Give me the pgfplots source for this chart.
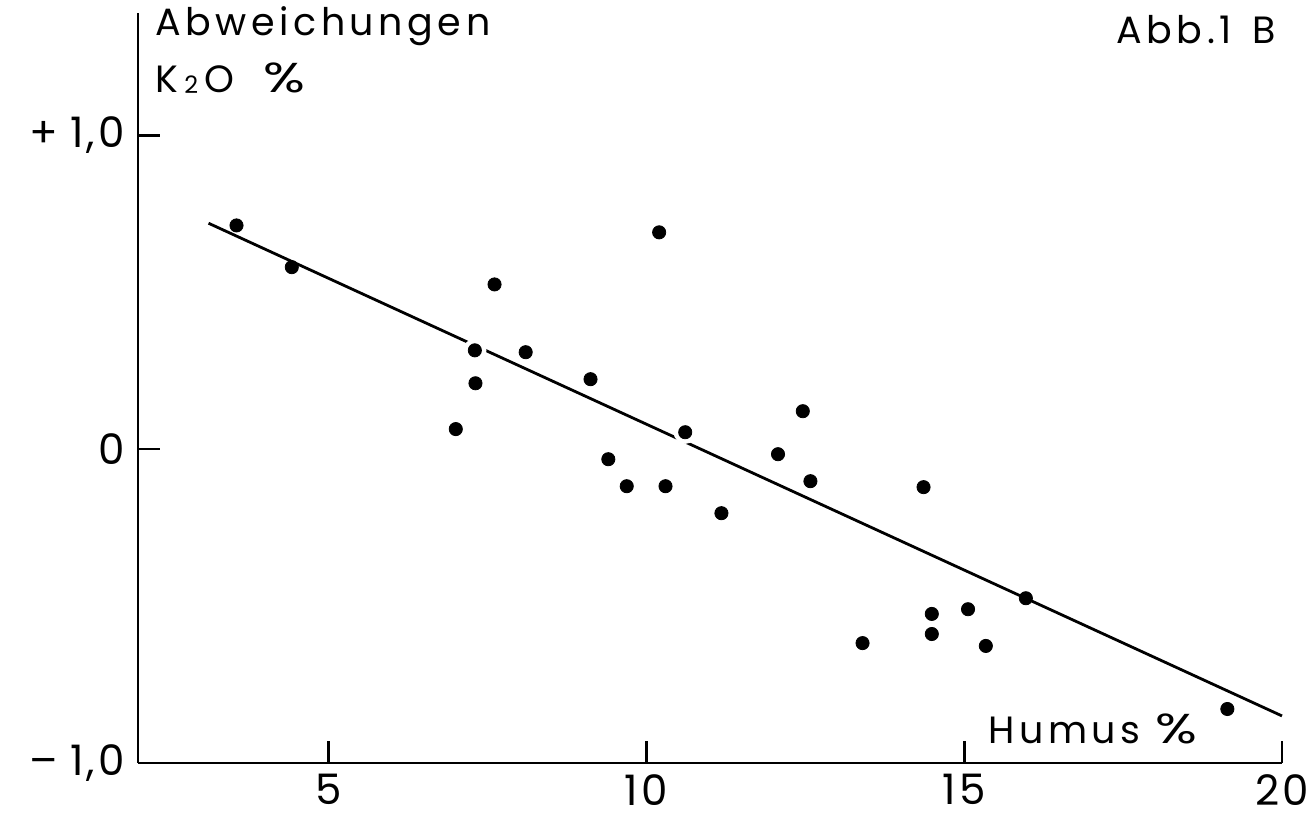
\documentclass[border=0pt]{standalone}
\usepackage{fontspec}
\usepackage{graphicx}
\setmainfont{Poppins}
\newfontfamily\lettering[LetterSpace=12]{Poppins}
\newfontfamily\numbers[LetterSpace=8]{Poppins}
\usepackage{pgfplots}
\pgfplotsset{compat=1.18}
% wide percent sign as used in the lettering
\newcommand{\pct}{\scalebox{1.45}[1.1]{\%}}

\begin{document}
\begin{tikzpicture}
\begin{axis}[
  name=ax,
  scale only axis,
  width=572pt, height=375pt,
  xmin=2, xmax=20, ymin=-1, ymax=1.39,
  axis lines=left,
  axis line style={-, line width=1.3pt},
  major tick style={black, line width=1.3pt},
  xtick align=inside,
  ytick align=inside,
  major tick length=11pt,
  xtick={5,10,15,20},
  xticklabels={5,10,15,20},
  ytick={-1,0,1},
  yticklabels={{–\;1,0},{0},{+\;1,0}},
  tick label style={font=\fontsize{21}{25}\selectfont\numbers},
  xticklabel style={inner sep=1pt, yshift=-4.5pt},
  yticklabel style={xshift=-3pt},
  clip=false,
]
% fitted regression line
\addplot[black, line width=1.4pt] coordinates {(3.11,0.72) (20,-0.85)};

% individual samples
\addplot[only marks, mark=*, mark size=3.3pt, black] coordinates {
  (3.55,0.713) (4.42,0.580) (7.61,0.525) (8.10,0.309) (7.31,0.210)
  (7.00,0.064) (9.12,0.223) (9.40,-0.032) (9.69,-0.118) (10.30,-0.118)
  (10.20,0.691) (11.18,-0.204) (12.07,-0.016) (12.46,0.121) (12.58,-0.102)
  (14.36,-0.121) (13.40,-0.618) (14.49,-0.525) (14.49,-0.589) (15.06,-0.510)
  (15.34,-0.627) (15.97,-0.475) (19.14,-0.828)
};
% samples lying on the line: a white gap first, then the dot itself
\addplot[only marks, mark=*, mark size=5.6pt, white] coordinates {
  (7.30,0.315) (10.61,0.054)
};
\addplot[only marks, mark=*, mark size=3.3pt, black] coordinates {
  (7.30,0.315) (10.61,0.054)
};

\node[anchor=base west, font=\fontsize{19}{22}\selectfont\lettering]
  at (axis cs:2.16,1.318) {Abweichungen};
\node[anchor=base west, font=\fontsize{19}{22}\selectfont\lettering]
  at (axis cs:2.16,1.137) {K\,\raisebox{-0.05ex}{\fontsize{12}{14}\selectfont 2}\,O\ \ \pct};
\node[anchor=base east, font=\fontsize{19}{22}\selectfont\lettering]
  at (axis cs:20.02,1.293) {Abb.1\,\ B};
\node[anchor=base west, font=\fontsize{19}{22}\selectfont\lettering]
  at (axis cs:15.27,-0.939) {Humus\ \pct};
\end{axis}
\pgfresetboundingbox
\path[use as bounding box] ([shift={(-69pt,-29pt)}]ax.south west)
  rectangle ([shift={(14.5pt,6.5pt)}]ax.north east);
\end{tikzpicture}
\end{document}
